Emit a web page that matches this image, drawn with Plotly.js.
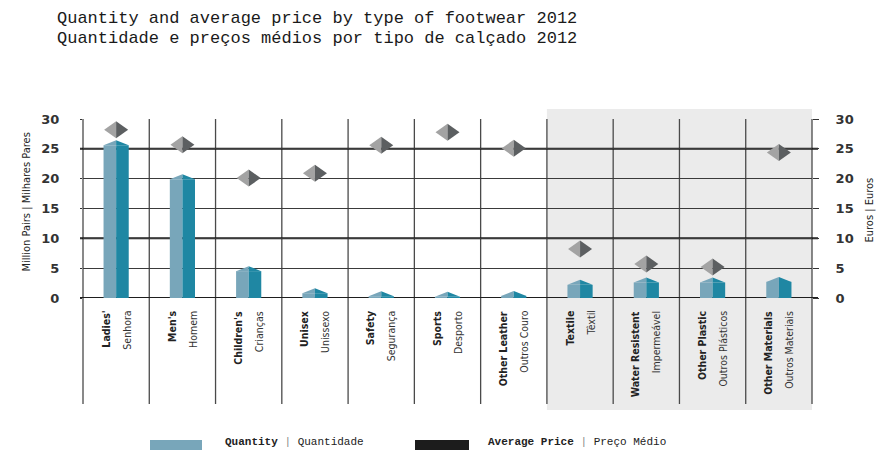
<!DOCTYPE html>
<html><head><meta charset="utf-8">
<script src="https://cdn.plot.ly/plotly-3.0.1.min.js"></script>
<style>html,body{margin:0;padding:0;background:#fff}#chart{width:880px;height:450px}</style>
</head><body><div id="chart"></div>
<script>
// ---- data ----
const categoriesEn = ["Ladies'", "Men's", "Children's", "Unisex", "Safety", "Sports", "Other Leather", "Textile", "Water Resistent", "Other Plastic", "Other Materials"];
const categoriesPt = ["Senhora", "Homem", "Crianças", "Unissexo", "Segurança", "Desporto", "Outros Couro", "Têxtil", "Impermeável", "Outros Plásticos", "Outros Materiais"];
const quantity = [25.6, 19.9, 4.5, 0.8, 0.3, 0.2, 0.35, 2.2, 2.6, 2.6, 2.7];   // million pairs
const avgPrice = [28.2, 25.7, 20.1, 20.9, 25.6, 27.8, 25.1, 8.2, 5.7, 5.2, 24.4]; // euros
const yTicks = [0, 5, 10, 15, 20, 25, 30];
const strongLines = [0, 10, 25];
const shadedFrom = 7;
const titleLines = ["Quantity and average price by type of footwear 2012", "Quantidade e preços médios por tipo de calçado 2012"];
const leftAxisTitle = "Million Pairs | Milhares Pares";
const rightAxisTitle = "Euros | Euros";
const legendQty = ["Quantity", "Quantidade"];
const legendPrice = ["Average Price", "Preço Médio"];

// ---- styles ----
const LIGHT = '#78a6ba', TEAL = '#1f87a3', DLIGHT = '#a3a3a3', DDARK = '#5c5f61';
const NARROW = '"DejaVu Sans Condensed", "DejaVu Sans", sans-serif';
const SLAB = '"Liberation Mono", monospace';
const W = 880, H = 450, L = 83, R = 68, T = 119, B = 152;
const pw = W - L - R, ph = H - T - B;
const px = v => (v - L) / pw;          // pixel x -> paper
const py = v => (H - B - v) / ph;      // pixel y -> paper
const n = categoriesEn.length;

const traces = [
  {type: 'bar', x: categoriesEn, y: quantity, width: 0.19, offset: -0.19,
   marker: {color: LIGHT, line: {width: 0}}, showlegend: false, hoverinfo: 'x+y'},
  {type: 'bar', x: categoriesEn, y: quantity, width: 0.19, offset: 0,
   marker: {color: TEAL, line: {width: 0}}, showlegend: false, hoverinfo: 'x+y'},
  {type: 'scatter', mode: 'markers', x: categoriesEn, y: avgPrice, yaxis: 'y2',
   marker: {size: 20, opacity: 0}, showlegend: false, hoverinfo: 'x+y'}
];

const shapes = [];
// grey panel
shapes.push({type: 'rect', xref: 'paper', yref: 'paper', x0: shadedFrom / n, x1: 1,
  y0: py(410), y1: py(109), fillcolor: '#ebebeb', line: {width: 0}, layer: 'below'});
// category dividers
for (let k = 0; k <= n; k++) {
  shapes.push({type: 'line', xref: 'paper', yref: 'paper', x0: k / n, x1: k / n,
    y0: py(404), y1: 1, line: {color: '#4a4a4a', width: 1.3}, layer: 'below'});
}
// strong horizontal lines
strongLines.forEach(v => shapes.push({type: 'line', xref: 'paper', yref: 'y', x0: px(80), x1: px(818),
  y0: v, y1: v, line: {color: '#1e1e1e', width: 2}, layer: 'below'}));
// bar roofs
quantity.forEach((q, i) => {
  const common = {type: 'path', xref: 'x', yref: 'y', xsizemode: 'pixel', ysizemode: 'pixel',
    xanchor: i, yanchor: q, line: {width: 0}, layer: 'above'};
  shapes.push(Object.assign({}, common, {path: 'M-12.6,0 L0,5 L0,0 Z', fillcolor: LIGHT}));
  shapes.push(Object.assign({}, common, {path: 'M0,0 L0,5 L12.6,0 Z', fillcolor: TEAL}));
});
// price diamonds
avgPrice.forEach((p, i) => {
  const common = {type: 'path', xref: 'x', yref: 'y2', xsizemode: 'pixel', ysizemode: 'pixel',
    xanchor: i, yanchor: p, line: {width: 0}, layer: 'above'};
  shapes.push(Object.assign({}, common, {path: 'M-12,0 L0,8.5 L0,-8.5 Z', fillcolor: DLIGHT}));
  shapes.push(Object.assign({}, common, {path: 'M0,8.5 L12,0 L0,-8.5 Z', fillcolor: DDARK}));
});
// legend swatches
shapes.push({type: 'rect', xref: 'paper', yref: 'paper', x0: px(150), x1: px(202), y0: py(451), y1: py(440),
  fillcolor: LIGHT, line: {width: 0}});
shapes.push({type: 'rect', xref: 'paper', yref: 'paper', x0: px(415), x1: px(469), y0: py(451), y1: py(440),
  fillcolor: '#1c1c1c', line: {width: 0}});

const annotations = [];
categoriesEn.forEach((c, i) => {
  annotations.push({x: c, xref: 'x', y: 0, yref: 'y', yshift: -12, xshift: -11, textangle: -90,
    xanchor: 'center', yanchor: 'top', showarrow: false, text: '<b>' + c + '</b>', borderpad: 0,
    font: {family: NARROW, size: 10.5, color: '#222'}});
  annotations.push({x: c, xref: 'x', y: 0, yref: 'y', yshift: -12, xshift: 10, textangle: -90,
    xanchor: 'center', yanchor: 'top', showarrow: false, text: categoriesPt[i], borderpad: 0,
    font: {family: NARROW, size: 10.5, color: '#333'}});
});
annotations.push({xref: 'paper', yref: 'paper', x: px(17), y: py(202), textangle: -90, showarrow: false,
  text: leftAxisTitle, font: {family: NARROW, size: 11, color: '#222'}});
annotations.push({xref: 'paper', yref: 'paper', x: px(877), y: py(210), textangle: -90, showarrow: false,
  text: rightAxisTitle, font: {family: NARROW, size: 11, color: '#222'}});
titleLines.forEach((t, j) => annotations.push({xref: 'paper', yref: 'paper', x: px(56), y: py(18.5 + j * 19.5),
  xanchor: 'left', yanchor: 'middle', showarrow: false, text: t, borderpad: 0,
  font: {family: SLAB, size: 17, color: '#1a1a1a'}}));
annotations.push({xref: 'paper', yref: 'paper', x: px(224), y: py(441.5), xanchor: 'left', yanchor: 'middle',
  showarrow: false, text: '<b>' + legendQty[0] + '</b> <span style="color:#888">|</span> ' + legendQty[1],
  borderpad: 0, font: {family: SLAB, size: 11, color: '#222'}});
annotations.push({xref: 'paper', yref: 'paper', x: px(487), y: py(441.5), xanchor: 'left', yanchor: 'middle',
  showarrow: false, text: '<b>' + legendPrice[0] + '</b> <span style="color:#888">|</span> ' + legendPrice[1],
  borderpad: 0, font: {family: SLAB, size: 11, color: '#222'}});

const tickFont = {family: '"DejaVu Sans", sans-serif', size: 13, color: '#333', weight: 'bold'};
const layout = {
  width: W, height: H, margin: {l: L, r: R, t: T, b: B, pad: 0},
  paper_bgcolor: '#fff', plot_bgcolor: 'rgba(0,0,0,0)',
  barmode: 'overlay', showlegend: false,
  xaxis: {type: 'category', range: [-0.5, n - 0.5], showticklabels: false, showgrid: false,
    zeroline: false, ticks: '', showline: false, fixedrange: true},
  yaxis: {range: [0, 30], tickvals: yTicks, ticktext: yTicks.map(String), showgrid: true,
    gridcolor: '#3a3a3a', gridwidth: 1, zeroline: false, showline: false,
    ticks: 'outside', ticklen: 2, tickcolor: '#333', ticklabelstandoff: 18, tickfont: tickFont},
  yaxis2: {range: [0, 30], overlaying: 'y', side: 'right', tickvals: yTicks, ticktext: yTicks.map(String),
    showgrid: false, zeroline: false, showline: false, ticks: 'outside', ticklen: 6, tickcolor: '#333',
    ticklabelstandoff: 14, tickfont: tickFont},
  shapes: shapes, annotations: annotations
};
Plotly.newPlot('chart', traces, layout, {displayModeBar: false, staticPlot: true});
</script></body></html>
